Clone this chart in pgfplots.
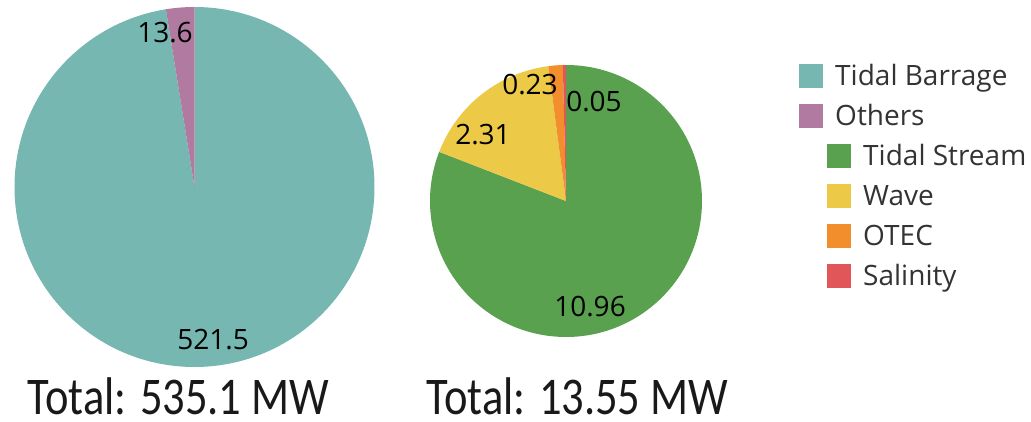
\documentclass[border=0pt]{standalone}
\usepackage{fontspec}
\setmainfont{Open Sans}
\newfontfamily\titlefont[FakeStretch=0.84]{Carlito}
\usepackage{pgfplots}
\usepackage{pgfplotstable}
\pgfplotsset{compat=1.18}

\definecolor{cBarrage}{HTML}{76B7B2}
\definecolor{cOthers}{HTML}{B07AA1}
\definecolor{cStream}{HTML}{59A14F}
\definecolor{cWave}{HTML}{EDC948}
\definecolor{cOTEC}{HTML}{F28E2B}
\definecolor{cSalinity}{HTML}{E15759}
\definecolor{legtext}{HTML}{333333}

\tikzset{
  pie label/.style={font=\fontsize{28bp}{32bp}\selectfont, text=black, inner sep=0pt, anchor=center},
  leg label/.style={font=\fontsize{28bp}{32bp}\selectfont, text=legtext, inner sep=0pt, anchor=base west},
  total label/.style={font=\titlefont\fontsize{53bp}{56bp}\selectfont, text=black!90, anchor=base, inner sep=0pt},
}

% value in MW, colour, label position (axis units = bp)
\pgfplotstableread{
label value color lx ly
TidalBarrage 521.5 cBarrage 213 82.5
Others 13.6 cOthers 165 389
}\totaldata

\pgfplotstableread{
label value color lx ly
TidalStream 10.96 cStream 590 115
Wave 2.31 cWave 483 287
OTEC 0.23 cOTEC 530 337
Salinity 0.05 cSalinity 594 320.5
}\otherdata

% pie: table, cx, cy, radius; clockwise from 12 o'clock
\newcommand{\drawpie}[4]{%
  \pgfplotstablegetrowsof{#1}%
  \pgfmathtruncatemacro{\lastrow}{\pgfplotsretval-1}%
  \def\pietotal{0}%
  \pgfplotsforeachungrouped \i in {0,...,\lastrow}{%
    \pgfplotstablegetelem{\i}{value}\of{#1}%
    \pgfmathsetmacro{\pietotal}{\pietotal+\pgfplotsretval}%
  }%
  \def\piecum{0}%
  \pgfplotsforeachungrouped \i in {0,...,\lastrow}{%
    \pgfplotstablegetelem{\i}{value}\of{#1}\let\pieval\pgfplotsretval
    \pgfplotstablegetelem{\i}{color}\of{#1}\let\piecol\pgfplotsretval
    \pgfmathsetmacro{\angA}{90-360*(\piecum/\pietotal)}%
    \pgfmathsetmacro{\piecum}{\piecum+\pieval}%
    \pgfmathsetmacro{\angB}{90-360*(\piecum/\pietotal)}%
    \edef\temp{\noexpand\fill[\piecol] (axis cs:#2,#3) -- ++(\angA:#4bp)
      arc[start angle=\angA, end angle=\angB, radius=#4bp] -- cycle;}%
    \temp
  }%
  \pgfplotsforeachungrouped \i in {0,...,\lastrow}{%
    \pgfplotstablegetelem{\i}{value}\of{#1}\let\pieval\pgfplotsretval
    \pgfplotstablegetelem{\i}{lx}\of{#1}\let\lx\pgfplotsretval
    \pgfplotstablegetelem{\i}{ly}\of{#1}\let\ly\pgfplotsretval
    \edef\temp{\noexpand\node[pie label] at (axis cs:\lx,\ly) {\pieval};}%
    \temp
  }%
}

% legend entry: square left x, row centre y, colour, text
\newcommand{\legentry}[4]{%
  \fill[#3] (axis cs:#1,#2-12) rectangle (axis cs:#1+24,#2+12);
  \node[leg label] at (axis cs:#1+36,#2-10) {#4};
}

\begin{document}
\begin{tikzpicture}
\begin{axis}[
  width=1031bp, height=422bp, scale only axis,
  xmin=0, xmax=1031, ymin=0, ymax=422,
  hide axis, clip=false,
]
\drawpie{\totaldata}{194.5}{235}{180}
\drawpie{\otherdata}{566}{221}{136}

\legentry{799}{346}{cBarrage}{Tidal Barrage}
\legentry{799}{306}{cOthers}{Others}
\legentry{827}{266}{cStream}{Tidal Stream}
\legentry{827}{226}{cWave}{Wave}
\legentry{827}{186}{cOTEC}{OTEC}
\legentry{827}{146}{cSalinity}{Salinity}

\node[total label] at (axis cs:178.5,7) {Total: 535.1 MW};
\node[total label] at (axis cs:577.5,7) {Total: 13.55 MW};
\end{axis}
\pgfresetboundingbox
\path (0,0) rectangle (1031bp,422bp);
\end{tikzpicture}
\end{document}
